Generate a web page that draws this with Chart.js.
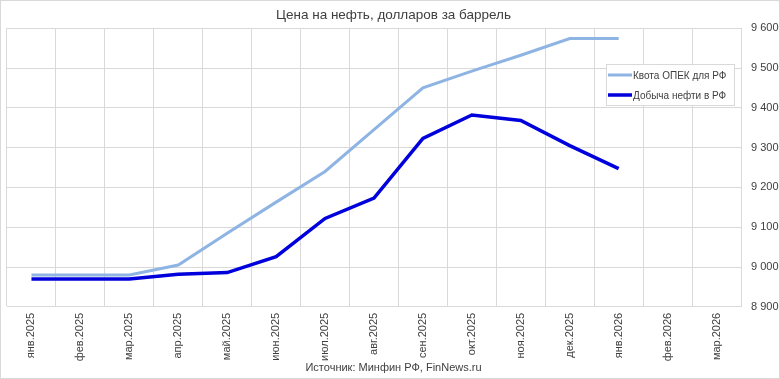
<!DOCTYPE html>
<html>
<head>
<meta charset="utf-8">
<script src="https://cdn.jsdelivr.net/npm/chart.js@4.4.1/dist/chart.umd.min.js"></script>
<style>
  html, body { margin: 0; padding: 0; background: #fff; }
  #wrap { width: 780px; height: 379px; position: relative; }
</style>
</head>
<body>
<div id="wrap"><canvas id="oilChart"></canvas></div>
<script>
(function () {
  "use strict";

  var months = [
    "янв.2025", "фев.2025", "мар.2025", "апр.2025", "май.2025",
    "июн.2025", "июл.2025", "авг.2025", "сен.2025", "окт.2025",
    "ноя.2025", "дек.2025", "янв.2026", "фев.2026", "мар.2026"
  ];
  var quota = [8980, 8980, 8980, 9005, 9085, 9163, 9240, 9345, 9450, 9492, 9532, 9574, 9574, null, null];
  var output = [8970, 8970, 8970, 8982, 8986, 9026, 9122, 9173, 9323, 9382, 9368, 9305, 9247, null, null];
  var seriesNames = ["Квота ОПЕК для РФ", "Добыча нефти в РФ"];
  var yTicks = [8900, 9000, 9100, 9200, 9300, 9400, 9500, 9600];

  var gridColor = "#d9d9d9";
  var textColor = "#404040";
  var fontFamily = "'Liberation Sans', Arial, sans-serif";

  // white background + thin frame round the whole picture
  var frame = {
    id: "frame",
    beforeDraw: function (chart) {
      var c = chart.ctx;
      c.save();
      c.fillStyle = "#fff";
      c.fillRect(0, 0, chart.width, chart.height);
      c.strokeStyle = gridColor;
      c.lineWidth = 1;
      c.strokeRect(0.5, 0.5, chart.width - 1, chart.height - 1);
      c.restore();
    }
  };

  // legend box inside the plot, like the Excel original
  var boxLegend = {
    id: "boxLegend",
    afterDraw: function (chart) {
      var c = chart.ctx;
      var x = 606, y = 64, w = 128, h = 41;
      c.save();
      c.fillStyle = "#fff";
      c.fillRect(x, y, w, h);
      c.strokeStyle = gridColor;
      c.lineWidth = 1;
      c.strokeRect(x + 0.5, y + 0.5, w, h);
      c.font = "10px " + fontFamily;
      c.textBaseline = "middle";
      chart.data.datasets.forEach(function (ds, i) {
        var ly = y + 11 + i * 20;
        c.strokeStyle = ds.borderColor;
        c.lineWidth = ds.borderWidth;
        c.beginPath();
        c.moveTo(x + 2, ly);
        c.lineTo(x + 26, ly);
        c.stroke();
        c.fillStyle = textColor;
        c.fillText(ds.label, x + 27, ly + 1);
      });
      c.restore();
    }
  };

  new Chart(document.getElementById("oilChart"), {
    type: "line",
    data: {
      labels: months,
      datasets: [
        {
          label: seriesNames[0],
          data: quota,
          borderColor: "#8eb4e3",
          borderWidth: 3,
          pointRadius: 0,
          tension: 0
        },
        {
          label: seriesNames[1],
          data: output,
          borderColor: "#0000dc",
          borderWidth: 3.5,
          pointRadius: 0,
          tension: 0
        }
      ]
    },
    options: {
      responsive: true,
      maintainAspectRatio: false,
      animation: false,
      layout: { padding: { left: 7, right: 0, top: 0, bottom: 0 } },
      scales: {
        x: {
          offset: true,
          grid: { color: gridColor, offset: true, drawTicks: false },
          border: { color: gridColor },
          ticks: {
            color: textColor,
            font: { size: 11, family: fontFamily },
            minRotation: 90,
            maxRotation: 90,
            padding: 6,
            autoSkip: false
          },
          afterFit: function (scale) { scale.height = 55; }
        },
        y: {
          position: "right",
          min: yTicks[0],
          max: yTicks[yTicks.length - 1],
          grid: { color: gridColor, drawTicks: false },
          border: { color: gridColor },
          afterBuildTicks: function (scale) {
            scale.ticks = yTicks.map(function (v) { return { value: v }; });
          },
          ticks: {
            color: textColor,
            padding: 10,
            font: { size: 11, family: fontFamily },
            callback: function (value) {
              return String(value).replace(/\B(?=(\d{3})+(?!\d))/g, " ");
            }
          },
          afterFit: function (scale) { scale.width = 39; }
        }
      },
      plugins: {
        legend: { display: false },
        tooltip: { enabled: false },
        title: {
          display: true,
          text: "Цена на нефть, долларов за баррель",
          color: textColor,
          font: { size: 13.5, weight: "normal", family: fontFamily },
          padding: { top: 7, bottom: 5 }
        },
        subtitle: {
          display: true,
          position: "bottom",
          text: "Источник: Минфин РФ, FinNews.ru",
          color: textColor,
          font: { size: 11, family: fontFamily },
          padding: { top: 0, bottom: 4 }
        }
      }
    },
    plugins: [frame, boxLegend]
  });
})();
</script>
</body>
</html>
